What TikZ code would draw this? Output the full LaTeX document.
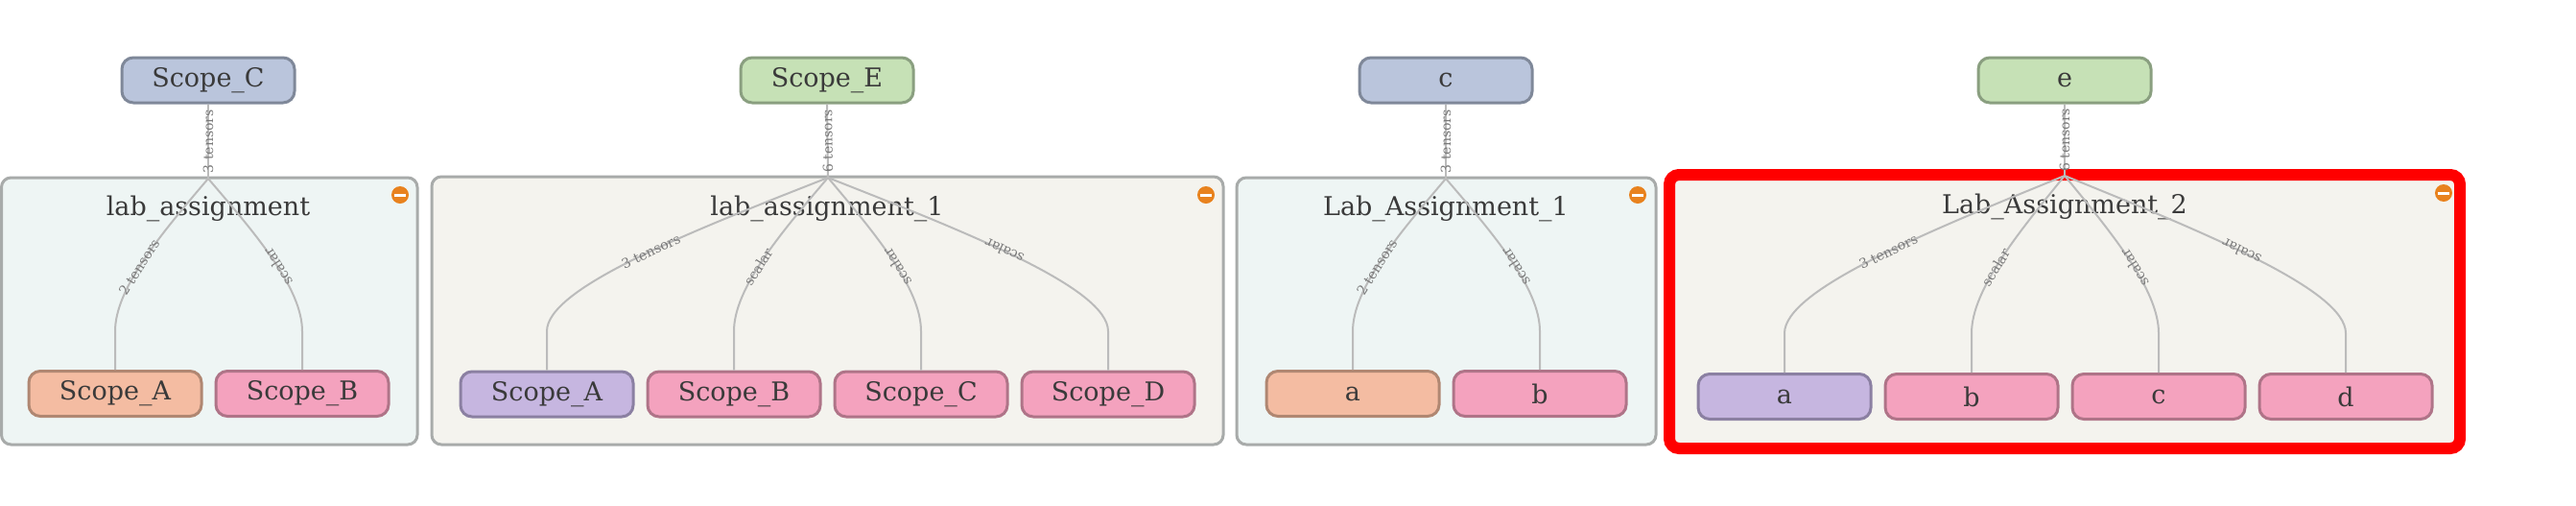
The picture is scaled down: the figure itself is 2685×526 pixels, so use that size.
\documentclass[tikz,border=0pt]{standalone}
\usepackage{fontspec}
\setmainfont{DejaVu Serif}
\usepackage{xcolor}
\usetikzlibrary{calc}

\definecolor{bluefill}{HTML}{BAC5DC}
\definecolor{blueline}{HTML}{7F8899}
\definecolor{greenfill}{HTML}{C6E1B6}
\definecolor{greenline}{HTML}{8A9F80}
\definecolor{orangefill}{HTML}{F4BCA2}
\definecolor{orangeline}{HTML}{B08772}
\definecolor{pinkfill}{HTML}{F4A2BE}
\definecolor{pinkline}{HTML}{AF7488}
\definecolor{purplefill}{HTML}{C6B6E0}
\definecolor{purpleline}{HTML}{8B80A2}
\definecolor{tealbg}{HTML}{EEF5F4}
\definecolor{greybg}{HTML}{F4F3EE}
\definecolor{groupline}{HTML}{A8ABAA}
\definecolor{edgegrey}{HTML}{BBBBBB}
\definecolor{labelgrey}{HTML}{7A7A7A}
\definecolor{textgrey}{HTML}{3A3A3A}
\definecolor{iconorange}{HTML}{E8821E}
\definecolor{alertred}{HTML}{FF0000}

\begin{document}
\begin{tikzpicture}[x=0.5pt,y=-0.5pt,
  scopebox/.style={draw, rounded corners=6pt, line width=1.5pt, minimum width=90pt, minimum height=23.5pt, inner sep=0pt, text=textgrey, font=\fontsize{13.5}{16}\selectfont},
  bluebox/.style={scopebox, fill=bluefill, draw=blueline},
  greenbox/.style={scopebox, fill=greenfill, draw=greenline},
  orangebox/.style={scopebox, fill=orangefill, draw=orangeline},
  pinkbox/.style={scopebox, fill=pinkfill, draw=pinkline},
  purplebox/.style={scopebox, fill=purplefill, draw=purpleline},
  groupframe/.style={draw=groupline, line width=1.5pt, rounded corners=5pt},
  grouptitle/.style={anchor=base, inner sep=0pt, text=textgrey, font=\fontsize{13.5}{16}\selectfont},
  tensorline/.style={draw=edgegrey, line width=1pt},
  edgelabel/.style={sloped, allow upside down, inner sep=0.5pt, text=labelgrey, font=\fontsize{7}{8}\selectfont},
  ]
\useasboundingbox (0,0) rectangle (2685,526);

%Shape: Group frames
\draw [groupframe, fill=tealbg] (1.5,185) rectangle (435,463);
\draw [groupframe, fill=greybg] (450,184) rectangle (1275,463);
\draw [groupframe, fill=tealbg] (1289,185) rectangle (1726,463);
\draw [draw=alertred, fill=greybg, line width=6pt, rounded corners=5pt] (1740,182) rectangle (2564,467);

% Group titles
\node [grouptitle] (titleOne) at (217,224) {lab\_assignment};
\node [grouptitle] (titleTwo) at (862,224) {lab\_assignment\_1};
\node [grouptitle] (titleThree) at (1507,224) {Lab\_Assignment\_1};
\node [grouptitle] (titleFour) at (2152,222) {Lab\_Assignment\_2};

%Shape: Collapse icons
\fill [iconorange] (417,203) circle (9);
\fill [white] (411,201.5) rectangle (423,204.5);
\fill [iconorange] (1257,203) circle (9);
\fill [white] (1251,201.5) rectangle (1263,204.5);
\fill [iconorange] (1707,203) circle (9);
\fill [white] (1701,201.5) rectangle (1713,204.5);
\fill [iconorange] (2547,201) circle (9);
\fill [white] (2541,199.5) rectangle (2553,202.5);

% Apex points
\coordinate (apexOne) at (217,186);
\coordinate (apexTwo) at (863,185);
\coordinate (apexThree) at (1507,186);
\coordinate (apexFour) at (2152,183);

% Panel 1
\node [bluebox] (scopeC) at (217,83.5) {Scope\_C};
\node [orangebox] (laA) at (120,410) {Scope\_A};
\node [pinkbox] (laB) at (315,410) {Scope\_B};
\draw [tensorline] (apexOne) -- node[edgelabel] {3 tensors} (scopeC.south);
\draw [tensorline] (laA.north) -- (120,345) .. controls (120,300) and ($(apexOne)!0.5!(120,300)$) .. node[edgelabel, pos=0.45] {2 tensors} (apexOne);
\draw [tensorline] (laB.north) -- (315,345) .. controls (315,300) and ($(apexOne)!0.5!(315,300)$) .. node[edgelabel, pos=0.45] {scalar} (apexOne);

% Panel 2
\node [greenbox] (scopeE) at (862,83.5) {Scope\_E};
\node [purplebox] (laoA) at (570,410.5) {Scope\_A};
\node [pinkbox] (laoB) at (765,410.5) {Scope\_B};
\node [pinkbox] (laoC) at (960,410.5) {Scope\_C};
\node [pinkbox] (laoD) at (1155,410.5) {Scope\_D};
\draw [tensorline] (apexTwo) -- node[edgelabel] {6 tensors} (scopeE.south);
\draw [tensorline] (laoA.north) -- (570,345) .. controls (570,300) and ($(apexTwo)!0.5!(570,300)$) .. node[edgelabel, pos=0.55] {3 tensors} (apexTwo);
\draw [tensorline] (laoB.north) -- (765,345) .. controls (765,300) and ($(apexTwo)!0.5!(765,300)$) .. node[edgelabel, pos=0.45] {scalar} (apexTwo);
\draw [tensorline] (laoC.north) -- (960,345) .. controls (960,300) and ($(apexTwo)!0.5!(960,300)$) .. node[edgelabel, pos=0.45] {scalar} (apexTwo);
\draw [tensorline] (laoD.north) -- (1155,345) .. controls (1155,300) and ($(apexTwo)!0.5!(1155,300)$) .. node[edgelabel, pos=0.55] {scalar} (apexTwo);

% Panel 3
\node [bluebox] (nodeC) at (1507,83.5) {c};
\node [orangebox] (capA) at (1410,410) {a};
\node [pinkbox] (capB) at (1605,410) {b};
\draw [tensorline] (apexThree) -- node[edgelabel] {3 tensors} (nodeC.south);
\draw [tensorline] (capA.north) -- (1410,345) .. controls (1410,300) and ($(apexThree)!0.5!(1410,300)$) .. node[edgelabel, pos=0.45] {2 tensors} (apexThree);
\draw [tensorline] (capB.north) -- (1605,345) .. controls (1605,300) and ($(apexThree)!0.5!(1605,300)$) .. node[edgelabel, pos=0.45] {scalar} (apexThree);

% Panel 4
\node [greenbox] (nodeE) at (2152,83.5) {e};
\node [purplebox] (captA) at (1860,413) {a};
\node [pinkbox] (captB) at (2055,413) {b};
\node [pinkbox] (captC) at (2250,413) {c};
\node [pinkbox] (captD) at (2445,413) {d};
\draw [tensorline] (apexFour) -- node[edgelabel] {6 tensors} (nodeE.south);
\draw [tensorline] (captA.north) -- (1860,347) .. controls (1860,302) and ($(apexFour)!0.5!(1860,302)$) .. node[edgelabel, pos=0.55] {3 tensors} (apexFour);
\draw [tensorline] (captB.north) -- (2055,347) .. controls (2055,302) and ($(apexFour)!0.5!(2055,302)$) .. node[edgelabel, pos=0.45] {scalar} (apexFour);
\draw [tensorline] (captC.north) -- (2250,347) .. controls (2250,302) and ($(apexFour)!0.5!(2250,302)$) .. node[edgelabel, pos=0.45] {scalar} (apexFour);
\draw [tensorline] (captD.north) -- (2445,347) .. controls (2445,302) and ($(apexFour)!0.5!(2445,302)$) .. node[edgelabel, pos=0.55] {scalar} (apexFour);

\end{tikzpicture}
\end{document}
